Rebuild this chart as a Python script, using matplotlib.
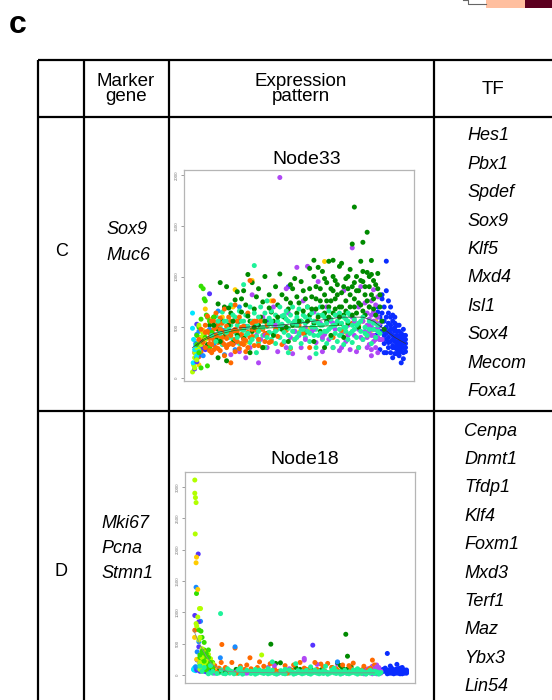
import matplotlib.pyplot as plt
from itertools import zip_longest

plt.rcParams['font.family'] = ['Liberation Sans', 'DejaVu Sans']

W, H = 552, 700

# ---- table text ----
header = ["", "Marker\ngene", "Expression\npattern", "TF"]
row_ids = ["C", "D"]
markers_C = ["Sox9", "Muc6"]
markers_D = ["Mki67", "Pcna", "Stmn1"]
tf_C = ["Hes1", "Pbx1", "Spdef", "Sox9", "Klf5", "Mxd4", "Isl1", "Sox4", "Mecom", "Foxa1"]
tf_D = ["Cenpa", "Dnmt1", "Tfdp1", "Klf4", "Foxm1", "Mxd3", "Terf1", "Maz", "Ybx3", "Lin54"]
titles = ["Node33", "Node18"]

colors = {
    'chartreuse': '#b2ff00', 'lime': '#33e000', 'cyan': '#00e6ff', 'dodger': '#1a8cff',
    'violet': '#5533ff', 'gold': '#ffcc00', 'orange': '#ff6a00', 'dgreen': '#008a00',
    'sgreen': '#1ef29a', 'purple': '#b048f5', 'blue': '#0a2cff',
}

# ---- Node33 (x = pseudotime 0-100, y = expression) ----
n33_chartreuse = [(0,60),(0.5,130),(1,200),(1.5,250),(2,300),(2.5,350),(3,280),(3.5,400),(4,330),
                  (5,420),(1,100),(2,180),(6,380),(4.5,460),(3,520)]
n33_lime = [(4,905),(5,880),(5.5,780),(6,760),(6.5,620),(7,600),(4,580),(3,500),(5,450),(6,400),
            (8,560),(2,330),(3,250),(7,120),(9,450),(4,100),(8,300),(10,600),(2,420)]
n33_cyan = [(0,640),(0,490),(0.5,380),(1,280),(0.3,150),(2,220),(1.5,320),(3,260)]
n33_dodger = [(1,250),(2,430),(3,460),(4,300),(2,200),(1.5,340),(5,220),(10,330),(15,230),(22,700),
              (14,470),(8,480),(20,280),(25,510),(12,660)]
n33_violet = [(2,530),(4,230),(1,90),(8,830),(3,370),(45,900),(35,560),(5,300),(2,160),(6,280)]
n33_gold = [(1,250),(3,130),(6,680),(8,580),(14,600),(20,870),(28,960),(19,700),(37,760),(55,480),
            (62,1148),(78,520),(80,560),(72,450),(84,470),(85,640),(86,560),(50,450),(10,420),(25,350),(5,470)]
n33_orange = [(2,320),(3,210),(4,400),(4,260),(5,450),(5,300),(6,380),(6,520),(7,290),(7,610),
              (8,340),(8,440),(9,560),(9,250),(10,480),(10,370),(11,300),(11,640),(12,420),(12,530),
              (13,270),(13,590),(14,460),(14,350),(15,680),(15,220),(16,510),(16,390),(17,440),(18,150),
              (18,560),(19,330),(20,480),(20,720),(21,360),(22,600),(22,290),(23,430),(24,510),(25,370),
              (25,260),(26,640),(27,960),(28,410),(28,540),(29,320),(30,470),(31,380),(32,560),(33,300),
              (34,440),(35,520),(36,350),(38,760),(40,410),(42,330),(44,470),(46,290),(48,380),(50,520),
              (52,440),(55,300),(58,560),(62,150),(66,400),(70,470),(75,540),(78,300),(82,420),(86,480),
              (6,450),(8,390),(10,280),(12,350),(14,540),(16,300),(18,420),(20,380),(24,330),(26,450),
              (9,330),(11,500),(13,410),(17,330),(19,560),(21,460),(23,340),(27,400),(30,560),(34,360),
              (3,380),(4,480),(5,350),(6,300),(7,460),(8,270),(9,400),(10,560),(11,420),(12,290),
              (13,480),(14,400),(15,330),(16,440),(17,600),(18,340),(19,460),(20,260),(21,560),(22,420),
              (23,500),(24,380),(26,300),(28,480),(29,560),(31,320),(33,480),(35,420),(37,360),(39,480)]
n33_dgreen = [(4,380),(6,450),(7,330),(8,520),(9,410),(10,600),(11,380),(12,730),(12,480),(13,940),
              (14,560),(15,410),(15,700),(16,900),(17,520),(18,640),(19,350),(20,770),(20,470),(21,850),
              (22,560),(23,650),(24,860),(24,390),(25,720),(26,1020),(27,560),(28,940),(28,460),(29,680),
              (30,800),(31,520),(32,600),(33,750),(34,1000),(35,440),(36,820),(37,650),(38,560),(39,900),
              (40,720),(41,1025),(42,480),(43,600),(44,780),(45,680),(46,920),(47,520),(48,980),(49,640),
              (50,740),(51,560),(52,860),(53,450),(54,700),(55,1080),(55,620),(56,800),(57,540),(58,900),
              (58,680),(59,1090),(60,760),(60,460),(61,620),(62,980),(62,820),(63,560),(64,1150),(64,700),
              (65,880),(66,640),(66,1000),(67,780),(68,540),(68,920),(69,700),(70,1130),(70,840),(71,620),
              (72,980),(72,760),(73,880),(73,540),(74,1070),(74,700),(75,1320),(75,900),(76,1684),(76,780),
              (77,640),(77,1000),(78,860),(78,500),(79,1150),(79,720),(80,950),(80,1337),(81,820),(81,620),
              (82,1436),(82,1040),(83,900),(83,700),(84,1158),(84,1020),(85,780),(86,620),(87,1030),(87,880),
              (88,700),(89,560),(90,480),(85,960),(71,400),(65,420),(57,360),(45,360),(33,300),(27,250),
              (16,170),(12,200),(62,300),
              (10,520),(13,360),(17,690),(19,560),(21,420),(23,780),(26,610),(29,500),(31,880),(34,560),
              (36,690),(38,420),(40,600),(42,820),(44,500),(46,740),(47,880),(49,800),(50,560),(51,950),
              (52,660),(53,780),(54,560),(55,880),(56,680),(57,1000),(58,780),(59,600),(60,880),(61,1050),
              (61,700),(62,640),(63,760),(63,940),(64,600),(65,760),(66,860),(67,680),(67,960),(68,820),
              (69,600),(69,1100),(70,700),(71,900),(72,660),(73,1000),(74,820),(75,620),(76,940),(76,700),
              (77,860),(78,740),(79,960),(80,660),(81,900),(82,760),(83,1000),(84,820),(85,680),(86,920),
              (88,820),(80,1050),(66,1160),(57,1160)]
n33_sgreen = [(8,320),(9,560),(10,430),(11,610),(12,380),(13,500),(14,330),(14,650),(15,470),(16,560),
              (17,400),(18,720),(18,520),(19,380),(20,600),(20,450),(21,520),(22,340),(22,660),(23,480),
              (24,560),(24,920),(25,420),(25,620),(26,510),(27,350),(27,700),(28,560),(28,460),(29,1108),
              (29,640),(30,410),(30,530),(31,600),(31,350),(32,480),(32,700),(33,560),(33,420),(34,640),
              (34,300),(35,510),(35,760),(36,450),(36,590),(37,380),(37,660),(38,520),(38,440),(39,620),
              (39,340),(40,560),(40,480),(41,700),(41,400),(42,530),(42,610),(43,450),(43,360),(44,580),
              (44,660),(45,490),(45,420),(46,620),(46,300),(47,540),(47,700),(48,460),(48,380),(49,600),
              (49,520),(50,440),(50,680),(51,560),(51,340),(52,480),(52,620),(53,400),(53,540),(54,700),
              (54,460),(55,580),(55,360),(56,500),(56,640),(57,420),(57,560),(58,480),(58,300),(59,620),
              (59,540),(60,440),(60,700),(61,520),(61,380),(62,600),(62,460),(63,540),(63,340),(64,660),
              (64,480),(65,400),(65,580),(66,520),(66,300),(67,620),(67,440),(68,560),(68,360),(69,480),
              (69,640),(70,420),(70,540),(71,600),(71,330),(72,500),(72,460),(73,380),(73,560),(74,440),
              (74,620),(75,520),(75,350),(76,480),(76,580),(77,400),(78,540),(78,300),(79,460),(80,600),
              (80,380),(81,500),(82,420),(83,560),(84,340),(85,480),(86,400),(87,520),(88,440),(30,250),
              (45,250),(58,240),
              (9,420),(11,360),(13,440),(15,560),(17,480),(19,620),(21,400),(23,560),(26,440),(28,380),
              (31,460),(33,500),(35,400),(37,560),(39,460),(41,520),(43,620),(45,560),(47,460),(49,400),
              (51,480),(53,600),(55,440),(57,500),(59,420),(61,620),(63,460),(65,500),(67,520),(69,420),
              (71,500),(73,640),(75,460),(77,520),(79,560),(81,440),(83,480),(85,540),(87,460),(12,560),
              (16,450),(24,470),(36,530),(48,560),(60,520),(72,580)]
n33_purple = [(18,230),(20,350),(22,260),(24,480),(25,200),(27,300),(28,820),(29,540),(30,420),(31,150),
              (32,380),(33,600),(35,300),(36,450),(38,700),(40,260),(41,1975),(42,520),(43,350),(44,880),
              (45,640),(46,400),(47,240),(48,560),(49,1090),(50,420),(51,300),(52,760),(53,500),(54,1100),
              (55,200),(56,460),(57,650),(58,350),(59,950),(60,540),(61,260),(62,430),(63,700),(64,380),
              (65,560),(66,300),(67,480),(68,620),(69,270),(70,440),(71,860),(72,360),(73,520),(74,280),
              (75,1282),(75,600),(76,420),(77,260),(78,700),(78,480),(79,900),(80,560),(80,380),(81,740),
              (81,460),(82,640),(82,520),(82,400),(83,700),(83,580),(83,330),(83,460),(84,620),(84,500),
              (84,280),(84,760),(85,420),(85,560),(85,360),(85,650),(86,480),(86,540),(86,300),(86,720),
              (87,400),(87,600),(87,250),(88,460),(88,540),(89,380),(85,870),(84,220),(87,800),
              (34,420),(39,520),(44,300),(48,460),(53,380),(57,480),(61,400),(66,540),(70,300),(73,420),
              (76,560),(79,400),(82,300),(84,420),(86,620),(88,380),(83,520),(85,480),(87,480),(86,380)]
n33_blue = [(86,560),(86,420),(87,650),(87,480),(87,700),(88,600),(88,520),(88,380),(89,780),(89,640),
            (89,460),(89,820),(90,560),(90,700),(90,420),(90,340),(91,1151),(91,600),(91,500),(91,380),
            (91,860),(92,460),(92,640),(92,300),(92,540),(92,400),(93,520),(93,360),(93,600),(93,440),
            (93,250),(94,480),(94,380),(94,560),(94,320),(94,420),(95,300),(95,500),(95,400),(95,240),
            (95,460),(96,360),(96,420),(96,280),(96,520),(96,330),(97,400),(97,300),(97,460),(97,220),
            (97,360),(98,380),(98,320),(98,440),(98,260),(98,150),(99,400),(99,300),(99,350),(99,190),
            (100,420),(100,340),(100,260),(100,380),(88,280),(90,250),(93,700),(95,600),(97,520),(99,480),
            (91,250),(94,200),
            (92,350),(93,480),(94,300),(95,360),(96,460),(97,340),(98,420),(99,420),(100,300),(90,480),
            (91,440),(89,560),(88,460),(95,540),(96,240),(98,300),(94,620),(92,760),(97,260),(99,250)]
n33_fit_dark = [(0,300),(5,380),(10,440),(20,490),(30,510),(40,520),(50,540),(60,570),(70,600),
                (80,600),(85,560),(90,480),(95,400),(100,340)]
n33_fit_green = [(2,320),(6,380),(12,430),(20,470),(30,490),(45,500),(60,510),(70,520)]

# ---- Node18 ----
n18_chartreuse = [(0.6,3110),(0.6,2900),(0.9,2830),(1.2,2750),(0.8,2250),(2,925),(1.2,820),(3.3,1060),
                  (2.8,1060),(1.5,780),(3,600),(4,420),(5,360),(6,300),(5,250),(7,200),(4,150),(6,120),
                  (3,90),(8,260),(9,180),(32,320),(7,330),(5,180),(2.5,560),(4,280),(6,220),(3,200)]
n18_lime = [(1.4,1300),(2.5,720),(3.5,700),(4,600),(5,400),(6,300),(7,250),(4,200),(6,150),(8,100),
            (3,280),(5,520),(7,400),(9,200),(5,150),(4,320),(6,250),
            (3,180),(4,240),(5,300),(6,180),(7,120),(5,90),(4,380),(6,340),(7,280),(8,200),(3,320),
            (5,220),(6,80),(8,140),(9,120)]
n18_gold = [(1.4,1880),(1.2,1790),(2,1365),(0.5,600),(1.5,250),(3,100),(4,60),(10,80),(20,60),(30,40),
            (45,60),(60,50),(65,100)]
n18_dodger = [(1.2,1400),(3.3,857),(2.5,530),(1.7,370),(19.5,450),(12.6,275),(67.6,210),(1,130),(2,110),
              (5,60),(8,90),(25,40),(60,80),(15,60)]
n18_violet = [(2.2,1930),(0.6,950),(2.5,850),(1.7,240),(56,476),(2.5,450),(4,100),(1.5,80),(3,60),(6,50)]
n18_cyan = [(0,90),(0.3,110),(0.6,100),(0.9,130),(0.2,80),(1,70)]
n18_orange = [(0.6,715),(13.3,487),(19.5,430),(26.5,275),(59.8,175),(84,238),(63,185),(5.6,370),(8,210),
              (10,150),(12,110),(14,80),(16,60),(18,200),(22,140),(24,90),(28,50),(30,120),(33,70),(35,40),
              (38,100),(40,60),(43,150),(46,80),(49,40),(52,110),(55,60),(58,90),(62,50),(65,120),(68,70),
              (71,40),(74,100),(77,60),(80,140),(82,80),(85,160),(86,100),(84,50),(50,200),(44,30),(36,180),
              (25,160),(20,30),(11,40),(70,160),(75,190),(78,30),(86,40),(31,210),(57,200),
              (15,120),(27,100),(39,60),(47,160),(53,90),(61,130),(67,100),(73,150),(79,80),(83,110),
              (13,200),(33,140)]
n18_dgreen = [(36.3,492),(71.5,650),(72.3,300),(38.6,185),(40.8,195),(67.6,200),(65,120),(70,110),(72,90),
              (30,80),(25,60),(45,70),(50,90),(55,110),(60,80),(62,50),(75,60),(80,100),(83,70),(12,60),
              (15,40),(20,90),(35,50),(42,40),(48,120),(58,40),(69,150),(74,130),(77,90),(9,90)]
n18_purple = [(52,265),(52,238),(67.6,175),(80,60),(82,100),(84,140),(85,40),(86,80),(87,120),(88,30),
              (86,160),(83,50),(87,60),(85,100),(81,30),(30,40),(40,30),(50,50),(60,40),(70,30),(75,70),
              (45,100),(55,30),(65,60),(35,120),(20,50),(10,30),(25,30),(58,170),(38,150),
              (80,20),(81,80),(82,40),(83,90),(84,20),(85,70),(86,20),(87,90),(88,60),(84,100),(86,130)]
n18_blue = [(91,344),(95.5,170),(92.4,143),(96,100),(98,120),(94,80),(90,60),(88,40),(89,90),(91,50),
            (92,70),(93,30),(93,110),(94,40),(95,60),(96,30),(97,70),(97,40),(98,50),(99,80),(99,30),
            (100,60),(100,40),(90,110),(91,20),(92,30),(94,20),(95,90),(96,60),(97,110),(98,20),(99,50),
            (100,30),(89,60),(88,70),(93,60),(95,30),(91,80),(97,20),(100,80)]
n18_sgreen = [(6,80),(7,40),(8,60),(9,30),(10,50),(11,70),(12,35),(13,55),(14,25),(15,60),(16,40),(17,30),
              (18,55),(19,35),(20,45),(21,25),(22,60),(23,40),(24,30),(25,50),(26,35),(27,25),(28,55),
              (29,40),(30,30),(31,50),(32,35),(33,25),(34,45),(35,60),(36,30),(37,40),(38,25),(39,50),
              (40,35),(41,45),(42,25),(43,55),(44,35),(45,30),(46,50),(47,40),(48,25),(49,45),(50,35),
              (51,55),(52,30),(53,40),(54,25),(55,50),(56,35),(57,45),(58,30),(59,55),(60,35),(61,25),
              (62,45),(63,40),(64,30),(65,50),(66,35),(67,25),(68,45),(69,55),(70,30),(71,40),(72,25),
              (73,50),(74,35),(75,45),(76,30),(77,55),(78,40),(79,25),(80,45),(81,35),(82,50),(83,30),
              (84,40),(85,25),(86,50),(87,35),(88,40),(12.7,980),(48,180),(62,140),(22,110),(35,100),
              (55,130),(66,110),(43,90),(77,100),(8,150),(16,100),(29,90),(37,210),
              (7,20),(9,60),(11,25),(13,80),(15,20),(17,70),(19,20),(21,80),(23,15),(25,75),(27,60),
              (29,15),(31,80),(33,60),(35,20),(37,75),(39,15),(41,70),(43,20),(45,80),(47,15),(49,70),
              (51,20),(53,75),(55,15),(57,80),(59,20),(61,70),(63,15),(65,80),(67,60),(69,15),(71,75),
              (73,20),(75,80),(77,15),(79,70),(81,15),(83,75),(85,60),(87,15),(5,120),(4,60),(3,140)]
n18_fit_gray = [(0,720),(2,560),(4,420),(6,300),(8,200),(10,140),(13,90),(16,60),(20,45),(30,38),
                (50,35),(70,35),(85,35)]


def px_rect(x0, y0, x1, y1):
    return [x0 / W, 1 - y1 / H, (x1 - x0) / W, (y1 - y0) / H]


fig = plt.figure(figsize=(W / 100, H / 100), dpi=100)
ax0 = fig.add_axes([0, 0, 1, 1])
ax0.set_xlim(0, W)
ax0.set_ylim(H, 0)
ax0.axis('off')

# panel label and top-right fragment
ax0.text(18, 25, "c", fontsize=23, fontweight='bold', ha='center', va='center')
ax0.plot([463, 468, 468, 486], [0, 0, 4, 4], color='#666666', lw=0.8)
ax0.add_patch(plt.Rectangle((486, 0), 39, 8, color='#ffbf9f', lw=0))
ax0.add_patch(plt.Rectangle((525, 0), 27, 8, color='#5c0020', lw=0))

# table grid
lw = 1.6
for yy in [60, 117, 411]:
    ax0.plot([38, 552], [yy, yy], color='black', lw=lw, solid_capstyle='butt')
for xx in [38, 84, 169, 434]:
    ax0.plot([xx, xx], [60, 700], color='black', lw=lw, solid_capstyle='butt')

# header
hx = [61, 126, 301, 493]
for x, t in zip(hx, header):
    ax0.text(x, 89, t, fontsize=13.5, ha='center', va='center', linespacing=0.78)

# row labels
ax0.text(62, 252, row_ids[0], fontsize=13, ha='center', va='center')
ax0.text(61, 572, row_ids[1], fontsize=13, ha='center', va='center')
for i, g in enumerate(markers_C):
    ax0.text(106, 230 + 26 * i, g, fontsize=13, style='italic', ha='left', va='center')
for i, g in enumerate(markers_D):
    ax0.text(101, 524 + 24.5 * i, g, fontsize=13, style='italic', ha='left', va='center')
for i, g in enumerate(tf_C):
    ax0.text(467, 136 + 28.4 * i, g, fontsize=13, style='italic', ha='left', va='center')
for i, g in enumerate(tf_D):
    ax0.text(464, 431 + 28.4 * i, g, fontsize=13, style='italic', ha='left', va='center')


def node_plot(rect, groups, fits, ylim, yticks):
    ax = fig.add_axes(rect)
    xs, ys, cs = [], [], []
    for items in zip_longest(*[[(p, c) for p in pts] for pts, c in groups]):
        for it in items:
            if it is None:
                continue
            (x, y), c = it
            xs.append(x)
            ys.append(y)
            cs.append(colors[c])
    ax.scatter(xs, ys, s=13, c=cs, linewidths=0, zorder=2)
    for pts, col, w in fits:
        fx, fy = zip(*pts)
        ax.plot(fx, fy, color=col, lw=w, zorder=3)
    ax.set_xlim(-4, 104)
    ax.set_ylim(*ylim)
    ax.set_xticks([])
    ax.set_yticks(yticks)
    ax.set_yticklabels([str(t) for t in yticks], rotation=90, va='center')
    ax.tick_params(axis='y', length=2.5, width=0.5, colors='#777777', labelsize=3.2, pad=1.5)
    for s in ax.spines.values():
        s.set_color('#b5b5b5')
        s.set_linewidth(0.9)
    return ax


node_plot(px_rect(184, 170, 414, 381),
          [(n33_sgreen, 'sgreen'), (n33_orange, 'orange'), (n33_dgreen, 'dgreen'),
           (n33_purple, 'purple'), (n33_chartreuse, 'chartreuse'), (n33_lime, 'lime'),
           (n33_cyan, 'cyan'), (n33_dodger, 'dodger'), (n33_violet, 'violet'), (n33_gold, 'gold'),
           (n33_blue, 'blue')],
          [(n33_fit_dark, '#333333', 0.5), (n33_fit_green, '#1b7a1b', 0.6)],
          (-29, 2049), [0, 500, 1000, 1500, 2000])
ax0.text(307, 160, titles[0], fontsize=14, ha='center', va='center')

node_plot(px_rect(185, 472, 415, 683),
          [(n18_sgreen, 'sgreen'), (n18_orange, 'orange'), (n18_dgreen, 'dgreen'),
           (n18_purple, 'purple'), (n18_chartreuse, 'chartreuse'), (n18_lime, 'lime'),
           (n18_cyan, 'cyan'), (n18_dodger, 'dodger'), (n18_violet, 'violet'), (n18_gold, 'gold'),
           (n18_blue, 'blue')],
          [(n18_fit_gray, '#888888', 0.6)],
          (-127, 3238), [0, 500, 1000, 1500, 2000, 2500, 3000])
ax0.text(305, 459, titles[1], fontsize=14, ha='center', va='center')

fig.savefig("out.png", dpi=100)
